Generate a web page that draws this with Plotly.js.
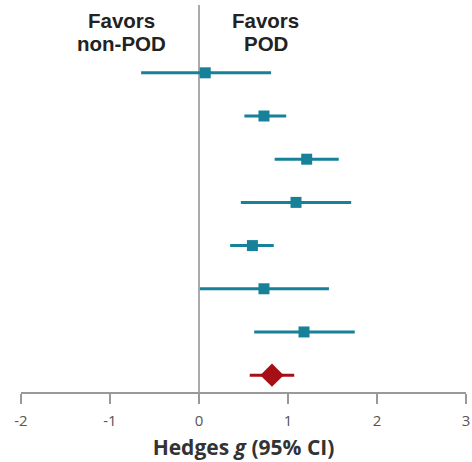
<!DOCTYPE html>
<html><head><meta charset="utf-8">
<script src="https://cdn.plot.ly/plotly-3.0.1.min.js"></script>
<style>html,body{margin:0;padding:0;background:#fff}</style>
</head><body>
<div id="chart" style="width:472px;height:462px"></div>
<script>
// Study rows (top to bottom) and pooled estimate
var studyRows = [0, 1, 2, 3, 4, 5, 6];
var studyG    = [0.07, 0.73, 1.21, 1.09, 0.60, 0.73, 1.18];
var studyLo   = [-0.65, 0.51, 0.85, 0.47, 0.35, 0.01, 0.62];
var studyHi   = [0.81, 0.98, 1.57, 1.71, 0.84, 1.46, 1.75];
var pooledRow = [7];
var pooledG   = [0.82];
var pooledLo  = [0.57];
var pooledHi  = [1.07];
var xTicks    = [-2, -1, 0, 1, 2, 3];

function plus(g, hi){ return hi.map(function(h,i){return h - g[i];}); }
function minus(g, lo){ return lo.map(function(l,i){return g[i] - l;}); }

var teal = '#17819a', red = '#a50f15';
var traces = [
  {type:'scatter', mode:'markers', x:studyG, y:studyRows,
   marker:{symbol:'square', size:11, color:teal},
   error_x:{type:'data', symmetric:false, array:plus(studyG, studyHi), arrayminus:minus(studyG, studyLo),
            color:teal, thickness:3, width:0},
   hoverinfo:'x'},
  {type:'scatter', mode:'markers', x:pooledG, y:pooledRow,
   marker:{symbol:'diamond', size:18, color:red},
   error_x:{type:'data', symmetric:false, array:plus(pooledG, pooledHi), arrayminus:minus(pooledG, pooledLo),
            color:red, thickness:3, width:0},
   hoverinfo:'x'}
];

var annFont = {size:20.5, color:'#222', family:'"Liberation Sans", Arial, sans-serif'};
function ann(x, y, t){
  return {xref:'x', yref:'y', x:x, y:y, yanchor:'middle', xanchor:'center', showarrow:false,
          text:'<b>'+t+'</b>', font:annFont};
}

var layout = {
  width:472, height:462,
  margin:{l:21, r:6, t:5, b:70},
  paper_bgcolor:'#fff', plot_bgcolor:'#fff',
  showlegend:false,
  font:{family:'"Liberation Sans", Arial, sans-serif', color:'#333'},
  xaxis:{range:[-2,3], tickvals:xTicks, ticktext:xTicks.map(String),
         showgrid:false, zeroline:true, zerolinecolor:'#aaa', zerolinewidth:2,
         showline:true, linecolor:'#999', linewidth:1.5,
         ticks:'outside', ticklen:10, tickcolor:'#999', tickwidth:1.5,
         ticklabelstandoff:4,
         tickfont:{size:15, color:'#555', family:'"Open Sans", sans-serif'},
         title:{text:'<b>Hedges <i>g</i> (95% CI)</b>', font:{size:21, color:'#333', family:'"Open Sans", sans-serif'}, standoff:12},
         fixedrange:true},
  yaxis:{range:[7.39,-1.57], showgrid:false, zeroline:false, showline:false,
         showticklabels:false, ticks:'', fixedrange:true},
  annotations:[
    ann(-0.876, -1.22, 'Favors'),
    ann(-0.876, -0.67, 'non-POD'),
    ann(0.75, -1.22, 'Favors'),
    ann(0.75, -0.67, 'POD')
  ]
};
Plotly.newPlot('chart', traces, layout, {displayModeBar:false, staticPlot:true});
</script>
</body></html>
